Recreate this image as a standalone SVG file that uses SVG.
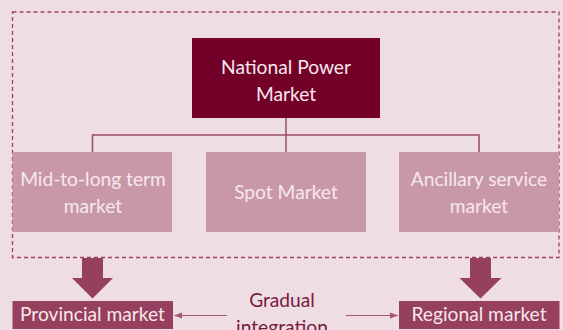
<svg xmlns="http://www.w3.org/2000/svg" width="563" height="330" viewBox="0 0 563 330">
  <style>
    .txt { font-family: Lato, "Liberation Sans", sans-serif; font-size: 19.2px; text-anchor: middle; }
    .light { fill: #F6E8EC; }
    .dark { fill: #7A1840; }
    .link { fill: none; stroke: #9B4A68; stroke-width: 1.5; }
    .thin { fill: none; stroke: #A65776; stroke-width: 1; }
    .sub { fill: #C998A8; }
    .deep { fill: #973F5E; }
  </style>
  <defs>
    <marker id="tip" viewBox="0 0 8 8" refX="8" refY="4" markerWidth="8" markerHeight="8" markerUnits="userSpaceOnUse" orient="auto">
      <path d="M0,1 L8,4 L0,7 Z" fill="#A65776"/>
    </marker>
  </defs>

  <rect x="0" y="0" width="563" height="330" fill="#EEDDE2"/>

  <!-- national scope boundary -->
  <rect x="12.5" y="12" width="546.5" height="245.5" fill="none" stroke="#9E4264" stroke-width="1.3" stroke-dasharray="4 3"/>

  <g id="connectors">
    <path class="link" d="M286,118 V152"/>
    <path class="link" d="M92.5,152 V135 H479 V152"/>
    <path class="thin" d="M227,315.5 H174" marker-end="url(#tip)"/>
    <path class="thin" d="M346,315.5 H398" marker-end="url(#tip)"/>
    <path class="deep" d="M82,258 H103 V278 H113 L92.5,298.5 L72,278 H82 Z"/>
    <path class="deep" d="M470,258 H491 V278 H501.5 L480.5,298.5 L459.5,278 H470 Z"/>
  </g>

  <g id="national-power-market">
    <rect x="192" y="38" width="188" height="80" fill="#730029"/>
    <text class="txt light" x="286" y="73.5">National Power</text>
    <text class="txt light" x="286" y="100.5">Market</text>
  </g>

  <g id="mid-to-long-term-market">
    <rect class="sub" x="12.5" y="152" width="159.5" height="80"/>
    <text class="txt light" x="93" y="185.5">Mid-to-long term</text>
    <text class="txt light" x="93" y="212.5">market</text>
  </g>

  <g id="spot-market">
    <rect class="sub" x="206" y="152" width="160" height="80"/>
    <text class="txt light" x="286" y="199">Spot Market</text>
  </g>

  <g id="ancillary-service-market">
    <rect class="sub" x="399" y="152" width="160" height="80"/>
    <text class="txt light" x="479" y="185.5">Ancillary service</text>
    <text class="txt light" x="479" y="212.5">market</text>
  </g>

  <g id="provincial-market">
    <rect class="deep" x="12.5" y="301" width="160.5" height="28"/>
    <text class="txt light" x="92.5" y="321">Provincial market</text>
  </g>

  <g id="regional-market">
    <rect class="deep" x="399" y="301" width="160.5" height="28"/>
    <text class="txt light" x="479" y="321">Regional market</text>
  </g>

  <g id="gradual-integration">
    <text class="txt dark" x="282" y="307">Gradual</text>
    <text class="txt dark" x="282" y="333.5">integration</text>
  </g>
</svg>
